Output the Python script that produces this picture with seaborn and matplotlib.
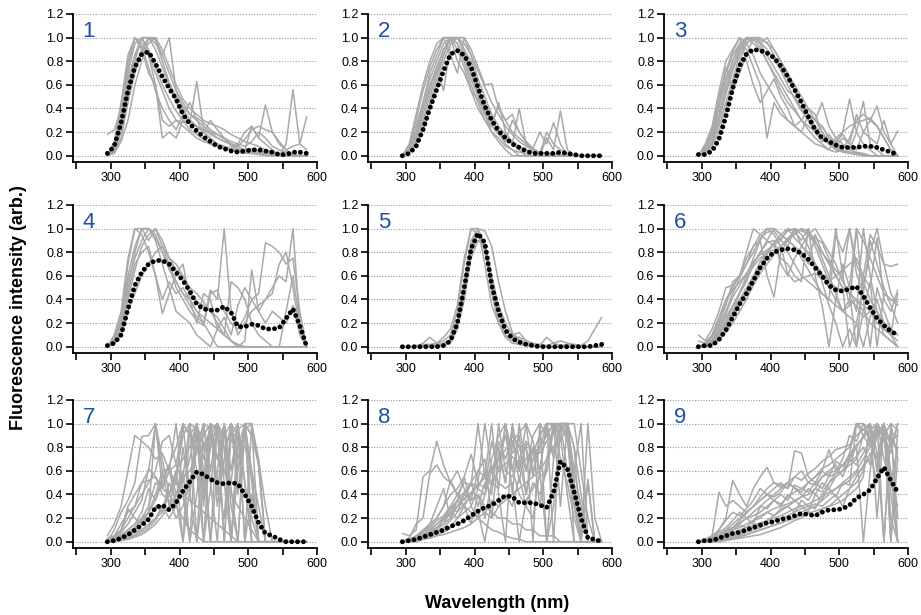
import matplotlib
matplotlib.use("Agg")
import matplotlib.pyplot as plt
import pandas as pd
import seaborn as sns

sns.set_style("ticks")
plt.rcParams["font.family"] = ["Liberation Sans", "DejaVu Sans"]
plt.rcParams["text.color"] = "black"

wavelength = [295, 305, 315, 325, 335, 345, 355, 365, 375, 385,
              395, 405, 415, 425, 435, 445, 455, 465, 475, 485,
              495, 505, 515, 525, 535, 545, 555, 565, 575, 585]

panel_labels = ["1", "2", "3", "4", "5", "6", "7", "8", "9"]

# averaged spectra (black dotted)
mean_1 = [0.02, 0.08, 0.28, 0.55, 0.75, 0.86, 0.88, 0.78, 0.67, 0.57, 0.48, 0.35, 0.27, 0.21, 0.16,
          0.12, 0.08, 0.06, 0.04, 0.03, 0.04, 0.05, 0.05, 0.04, 0.03, 0.01, 0.01, 0.03, 0.03, 0.02]
mean_2 = [0.0, 0.02, 0.08, 0.22, 0.40, 0.56, 0.72, 0.86, 0.89, 0.85, 0.75, 0.58, 0.42, 0.30, 0.21,
          0.15, 0.10, 0.07, 0.04, 0.02, 0.02, 0.02, 0.02, 0.03, 0.02, 0.01, 0.0, 0.0, 0.0, 0.0]
mean_3 = [0.01, 0.01, 0.04, 0.14, 0.33, 0.57, 0.76, 0.86, 0.90, 0.89, 0.87, 0.83, 0.76, 0.67, 0.56,
          0.45, 0.33, 0.22, 0.15, 0.12, 0.09, 0.07, 0.07, 0.07, 0.08, 0.08, 0.07, 0.05, 0.03, 0.01]
mean_4 = [0.01, 0.03, 0.10, 0.32, 0.52, 0.63, 0.70, 0.73, 0.73, 0.70, 0.63, 0.56, 0.47, 0.36, 0.32,
          0.31, 0.31, 0.34, 0.29, 0.17, 0.17, 0.19, 0.18, 0.15, 0.15, 0.16, 0.24, 0.32, 0.18, 0.0]
mean_5 = [0.0, 0.0, 0.0, 0.0, 0.0, 0.0, 0.01, 0.05, 0.20, 0.50, 0.83, 0.96, 0.88, 0.52, 0.30,
          0.14, 0.07, 0.04, 0.02, 0.01, 0.0, 0.0, 0.0, 0.0, 0.0, 0.0, 0.0, 0.0, 0.01, 0.02]
mean_6 = [0.0, 0.01, 0.01, 0.06, 0.14, 0.25, 0.36, 0.45, 0.56, 0.67, 0.75, 0.80, 0.82, 0.83, 0.82,
          0.79, 0.74, 0.67, 0.60, 0.52, 0.48, 0.47, 0.49, 0.51, 0.43, 0.33, 0.24, 0.18, 0.13, 0.10]
mean_7 = [0.0, 0.01, 0.03, 0.06, 0.10, 0.14, 0.19, 0.29, 0.31, 0.27, 0.33, 0.43, 0.51, 0.59, 0.57,
          0.53, 0.50, 0.49, 0.50, 0.49, 0.40, 0.30, 0.16, 0.07, 0.05, 0.02, 0.0, 0.0, 0.0, 0.0]
mean_8 = [0.0, 0.01, 0.02, 0.04, 0.06, 0.08, 0.10, 0.13, 0.15, 0.18, 0.22, 0.26, 0.29, 0.31, 0.35,
          0.39, 0.38, 0.33, 0.33, 0.33, 0.31, 0.29, 0.42, 0.68, 0.62, 0.42, 0.20, 0.03, 0.02, 0.0]
mean_9 = [0.0, 0.01, 0.01, 0.03, 0.05, 0.07, 0.08, 0.10, 0.12, 0.14, 0.16, 0.17, 0.19, 0.20, 0.22,
          0.24, 0.23, 0.22, 0.25, 0.27, 0.27, 0.28, 0.31, 0.37, 0.40, 0.44, 0.54, 0.63, 0.52, 0.42]

# individual spectra (grey), intensity in percent
spectra_1 = [
    [0, 5, 30, 70, 95, 100, 90, 75, 60, 48, 38, 30, 22, 18, 14, 10, 8, 6, 5, 4, 5, 6, 4, 3, 2, 0, 0, 0, 0, 0],
    [0, 10, 40, 80, 100, 95, 85, 70, 55, 40, 30, 25, 20, 15, 12, 10, 8, 6, 6, 10, 20, 25, 15, 10, 5, 0, 10, 56, 10, 5],
    [18, 22, 40, 65, 85, 100, 100, 90, 75, 60, 45, 35, 28, 63, 22, 18, 15, 12, 10, 8, 14, 22, 25, 22, 20, 12, 5, 8, 10, 33],
    [0, 2, 12, 30, 60, 80, 100, 95, 85, 100, 55, 45, 35, 30, 25, 20, 15, 12, 10, 8, 5, 4, 3, 2, 2, 1, 0, 0, 0, 0],
    [0, 8, 35, 75, 100, 90, 70, 60, 15, 20, 15, 30, 27, 25, 20, 30, 22, 15, 8, 5, 5, 25, 15, 43, 20, 10, 5, 0, 0, 0],
    [0, 6, 28, 60, 85, 100, 100, 98, 80, 62, 50, 42, 35, 32, 28, 22, 18, 14, 10, 6, 4, 3, 2, 2, 1, 0, 0, 0, 0, 0],
    [0, 4, 20, 50, 75, 90, 100, 100, 85, 70, 55, 40, 30, 25, 20, 15, 10, 8, 6, 4, 3, 2, 2, 1, 0, 0, 0, 0, 0, 0],
    [0, 12, 45, 85, 100, 92, 75, 55, 40, 30, 22, 35, 45, 30, 20, 14, 10, 8, 5, 3, 2, 2, 1, 0, 0, 0, 0, 0, 0, 0],
    [0, 3, 15, 45, 70, 88, 95, 100, 90, 75, 60, 48, 40, 35, 30, 27, 25, 22, 18, 15, 12, 10, 8, 5, 3, 2, 0, 0, 0, 0],
    [0, 5, 25, 55, 80, 100, 85, 60, 30, 25, 30, 28, 30, 25, 22, 20, 18, 15, 12, 10, 8, 12, 20, 15, 8, 5, 3, 2, 0, 0],
]
spectra_2 = [
    [0, 5, 20, 45, 65, 80, 95, 100, 95, 80, 60, 45, 30, 20, 12, 5, 0, 0, 0, 0, 0, 0, 0, 0, 0, 0, 0, 0, 0, 0],
    [0, 8, 30, 55, 75, 90, 100, 100, 90, 75, 55, 40, 30, 25, 45, 20, 10, 5, 0, 0, 0, 0, 0, 0, 0, 0, 0, 0, 0, 0],
    [0, 3, 15, 35, 55, 75, 90, 100, 100, 90, 80, 60, 40, 30, 20, 15, 10, 40, 10, 5, 0, 15, 5, 38, 5, 0, 0, 0, 0, 0],
    [0, 10, 35, 60, 80, 95, 100, 85, 70, 100, 85, 65, 50, 35, 25, 18, 12, 8, 5, 3, 2, 20, 10, 5, 2, 0, 0, 0, 0, 0],
    [0, 2, 10, 22, 40, 60, 80, 95, 100, 100, 90, 75, 60, 61, 40, 30, 20, 15, 10, 5, 3, 2, 0, 0, 0, 0, 0, 0, 0, 0],
    [0, 5, 18, 30, 50, 70, 85, 100, 95, 85, 65, 50, 35, 25, 18, 12, 30, 20, 12, 6, 3, 2, 2, 1, 0, 0, 0, 0, 0, 0],
    [0, 4, 15, 40, 60, 75, 55, 95, 100, 90, 70, 55, 45, 30, 20, 10, 5, 3, 2, 0, 0, 0, 0, 0, 0, 0, 0, 0, 0, 0],
    [0, 6, 25, 45, 70, 85, 100, 100, 80, 70, 55, 48, 35, 20, 15, 8, 5, 0, 0, 0, 0, 0, 0, 0, 0, 0, 0, 0, 0, 0],
    [0, 4, 12, 28, 45, 65, 85, 100, 100, 95, 85, 72, 58, 45, 35, 25, 18, 12, 8, 5, 3, 2, 1, 0, 0, 0, 0, 0, 0, 0],
    [0, 6, 20, 40, 58, 72, 90, 98, 100, 88, 70, 52, 38, 28, 42, 30, 35, 20, 12, 6, 20, 10, 28, 10, 0, 0, 0, 0, 0, 0],
]
spectra_3 = [
    [0, 8, 18, 40, 75, 55, 70, 85, 100, 95, 100, 90, 80, 70, 55, 45, 35, 25, 15, 10, 8, 5, 3, 2, 0, 0, 0, 0, 0, 0],
    [0, 5, 15, 35, 60, 80, 95, 100, 100, 95, 85, 75, 65, 55, 50, 40, 30, 20, 12, 18, 10, 20, 48, 20, 10, 5, 0, 0, 0, 0],
    [0, 3, 10, 25, 45, 65, 85, 95, 100, 98, 96, 85, 75, 65, 55, 45, 35, 30, 45, 25, 15, 10, 5, 20, 46, 10, 5, 0, 0, 0],
    [0, 6, 20, 45, 70, 85, 95, 90, 75, 60, 15, 45, 35, 30, 25, 20, 15, 10, 8, 5, 3, 5, 15, 30, 35, 30, 42, 20, 10, 21],
    [0, 4, 12, 30, 55, 75, 90, 100, 95, 90, 80, 70, 60, 50, 40, 30, 22, 15, 10, 5, 15, 20, 25, 28, 30, 32, 25, 15, 5, 0],
    [0, 10, 25, 55, 80, 90, 100, 95, 85, 70, 60, 50, 40, 30, 25, 20, 35, 30, 25, 15, 10, 8, 5, 3, 2, 0, 0, 0, 0, 0],
    [0, 2, 8, 20, 40, 60, 80, 95, 100, 100, 95, 90, 80, 70, 60, 50, 40, 30, 20, 10, 5, 3, 2, 1, 0, 0, 0, 0, 0, 0],
    [0, 7, 22, 50, 72, 88, 100, 80, 60, 45, 55, 65, 50, 40, 25, 30, 40, 35, 20, 12, 8, 15, 10, 5, 20, 15, 10, 30, 10, 0],
    [0, 5, 18, 42, 65, 80, 92, 100, 98, 92, 80, 68, 55, 45, 38, 30, 25, 20, 25, 15, 12, 18, 10, 35, 20, 30, 25, 15, 5, 0],
    [0, 3, 12, 30, 52, 72, 88, 98, 100, 96, 90, 82, 72, 60, 48, 38, 30, 22, 15, 10, 6, 4, 3, 2, 1, 0, 0, 0, 0, 0],
]
spectra_4 = [
    [0, 5, 20, 60, 85, 100, 100, 95, 80, 65, 55, 45, 35, 25, 20, 10, 0, 0, 0, 0, 0, 0, 0, 0, 0, 0, 0, 0, 0, 0],
    [0, 8, 25, 70, 100, 100, 90, 100, 85, 70, 55, 45, 40, 30, 20, 48, 40, 100, 30, 10, 20, 30, 35, 40, 50, 60, 55, 100, 20, 0],
    [0, 3, 15, 40, 65, 85, 95, 100, 90, 75, 65, 60, 45, 38, 35, 30, 25, 15, 5, 0, 0, 0, 0, 0, 0, 0, 0, 0, 0, 0],
    [0, 10, 30, 75, 100, 95, 80, 60, 40, 55, 45, 50, 40, 20, 45, 40, 15, 25, 10, 35, 50, 40, 45, 88, 85, 80, 70, 75, 30, 0],
    [0, 6, 22, 50, 80, 100, 100, 90, 70, 50, 30, 25, 20, 10, 5, 0, 15, 10, 55, 50, 40, 20, 10, 5, 0, 0, 30, 60, 20, 0],
    [0, 2, 10, 30, 45, 60, 70, 80, 85, 75, 70, 60, 50, 45, 38, 30, 20, 10, 5, 0, 5, 65, 30, 40, 45, 70, 80, 50, 15, 0],
    [0, 5, 18, 45, 70, 80, 85, 60, 28, 45, 62, 70, 40, 30, 25, 20, 15, 10, 5, 2, 0, 0, 0, 0, 0, 0, 0, 0, 0, 0],
    [0, 7, 25, 55, 75, 90, 100, 92, 80, 68, 50, 40, 30, 22, 18, 45, 48, 30, 20, 15, 25, 40, 30, 20, 30, 25, 20, 35, 10, 0],
]
spectra_5 = [
    [0, 0, 0, 3, 8, 3, 5, 10, 30, 70, 100, 100, 85, 45, 20, 8, 3, 2, 1, 0, 0, 0, 0, 0, 0, 0, 0, 0, 0, 0],
    [0, 0, 1, 2, 2, 3, 8, 15, 35, 75, 100, 95, 80, 55, 35, 20, 10, 5, 3, 2, 1, 0, 0, 0, 0, 0, 0, 0, 0, 0],
    [0, 0, 0, 0, 0, 1, 2, 4, 15, 45, 85, 100, 98, 85, 55, 30, 12, 6, 3, 2, 1, 0, 0, 0, 0, 0, 0, 0, 0, 0],
    [0, 0, 0, 1, 1, 2, 3, 6, 22, 55, 90, 100, 70, 35, 20, 8, 10, 12, 5, 2, 1, 8, 3, 1, 2, 1, 0, 0, 0, 0],
    [0, 0, 0, 0, 1, 1, 2, 5, 18, 50, 80, 95, 88, 60, 35, 15, 8, 8, 5, 3, 2, 1, 3, 5, 3, 2, 1, 5, 15, 25],
    [0, 0, 0, 0, 0, 0, 1, 3, 15, 40, 75, 90, 85, 50, 25, 10, 5, 3, 2, 1, 0, 0, 0, 0, 0, 0, 0, 0, 0, 0],
]
spectra_6 = [
    [10, 5, 15, 30, 50, 52, 60, 75, 85, 95, 100, 95, 85, 80, 70, 60, 55, 50, 45, 40, 35, 30, 35, 40, 30, 20, 15, 10, 5, 0],
    [0, 0, 5, 10, 20, 30, 45, 60, 75, 90, 100, 100, 95, 90, 100, 85, 80, 70, 60, 50, 40, 30, 40, 35, 25, 30, 20, 15, 10, 5],
    [0, 2, 8, 20, 35, 55, 60, 80, 100, 95, 90, 85, 75, 70, 60, 55, 100, 60, 35, 0, 40, 70, 50, 30, 100, 60, 30, 10, 5, 0],
    [0, 0, 2, 8, 15, 25, 35, 45, 55, 65, 75, 80, 85, 90, 95, 100, 98, 90, 75, 60, 45, 30, 25, 20, 0, 25, 40, 20, 10, 45],
    [0, 3, 10, 25, 40, 50, 60, 70, 85, 90, 60, 42, 80, 90, 85, 80, 70, 95, 80, 70, 60, 50, 0, 20, 50, 80, 100, 70, 45, 35],
    [0, 1, 5, 15, 25, 35, 45, 55, 70, 80, 90, 100, 95, 90, 85, 75, 65, 55, 45, 40, 95, 80, 100, 70, 55, 40, 30, 20, 15, 10],
    [0, 0, 3, 10, 20, 30, 40, 50, 60, 72, 80, 88, 92, 98, 100, 95, 85, 70, 55, 35, 20, 0, 15, 0, 60, 95, 85, 70, 68, 70],
    [0, 2, 6, 18, 30, 45, 58, 70, 80, 92, 97, 98, 90, 85, 100, 98, 96, 92, 88, 75, 60, 50, 45, 40, 35, 30, 25, 15, 10, 0],
    [0, 0, 4, 12, 22, 34, 46, 58, 68, 75, 80, 82, 85, 62, 55, 58, 60, 62, 58, 55, 60, 65, 70, 75, 60, 50, 92, 40, 30, 48],
    [0, 1, 5, 14, 28, 42, 52, 62, 72, 78, 82, 86, 90, 100, 92, 86, 78, 70, 62, 56, 50, 48, 52, 100, 90, 75, 60, 45, 40, 38],
    [0, 1, 4, 10, 18, 28, 38, 48, 58, 68, 78, 88, 95, 100, 98, 90, 100, 85, 70, 55, 100, 60, 35, 100, 40, 0, 50, 30, 15, 10],
    [5, 3, 10, 22, 38, 48, 55, 62, 70, 80, 88, 90, 70, 60, 75, 85, 95, 100, 90, 80, 70, 55, 45, 0, 30, 55, 0, 45, 40, 35],
    [0, 0, 2, 6, 12, 20, 30, 40, 52, 62, 70, 78, 85, 92, 96, 100, 94, 88, 80, 72, 65, 58, 100, 62, 45, 90, 70, 50, 35, 20],
]
spectra_7 = [
    [5, 15, 30, 60, 90, 85, 80, 70, 75, 60, 50, 40, 35, 30, 25, 20, 15, 10, 5, 0, 0, 0, 0, 0, 0, 0, 0, 0, 0, 0],
    [0, 10, 25, 35, 50, 89, 90, 100, 70, 40, 30, 20, 10, 5, 0, 0, 0, 0, 0, 0, 0, 0, 0, 0, 0, 0, 0, 0, 0, 0],
    [0, 5, 15, 25, 30, 40, 50, 60, 85, 90, 65, 100, 90, 80, 100, 95, 70, 60, 40, 30, 20, 10, 0, 0, 0, 0, 0, 0, 0, 0],
    [0, 2, 5, 10, 15, 20, 30, 50, 45, 60, 100, 40, 0, 100, 60, 0, 100, 80, 0, 95, 50, 0, 0, 0, 0, 0, 0, 0, 0, 0],
    [0, 0, 3, 8, 12, 20, 25, 100, 60, 30, 55, 90, 100, 0, 100, 50, 0, 100, 30, 0, 100, 60, 0, 0, 0, 0, 0, 0, 0, 0],
    [0, 1, 4, 6, 10, 15, 20, 30, 25, 40, 60, 70, 80, 100, 30, 100, 70, 100, 0, 60, 100, 90, 65, 0, 0, 0, 0, 0, 0, 0],
    [0, 0, 2, 5, 8, 10, 15, 20, 25, 50, 35, 0, 100, 60, 0, 90, 100, 0, 90, 100, 0, 100, 0, 0, 0, 0, 0, 0, 0, 0],
    [3, 5, 10, 20, 30, 50, 52, 55, 40, 35, 20, 30, 50, 80, 90, 100, 95, 90, 100, 90, 80, 60, 30, 0, 0, 0, 0, 0, 0, 0],
    [0, 2, 6, 10, 15, 25, 45, 35, 55, 65, 40, 60, 0, 40, 85, 0, 60, 100, 45, 0, 100, 20, 0, 0, 0, 0, 0, 0, 0, 0],
    [0, 0, 1, 3, 5, 8, 12, 18, 30, 20, 30, 55, 100, 95, 70, 100, 50, 20, 100, 70, 95, 100, 70, 30, 0, 0, 0, 0, 0, 0],
    [0, 3, 8, 15, 25, 35, 62, 55, 45, 60, 65, 50, 70, 100, 40, 80, 100, 60, 50, 100, 0, 40, 0, 0, 0, 0, 0, 0, 0, 0],
    [2, 4, 8, 28, 20, 15, 25, 40, 60, 62, 30, 80, 40, 0, 50, 100, 30, 70, 100, 40, 100, 50, 0, 0, 0, 0, 0, 0, 0, 0],
    [0, 0, 1, 2, 4, 6, 10, 15, 22, 30, 40, 55, 60, 75, 100, 60, 100, 0, 100, 60, 100, 0, 0, 0, 0, 0, 0, 0, 0, 0],
    [0, 2, 10, 30, 40, 50, 60, 100, 45, 40, 50, 100, 40, 90, 50, 100, 40, 100, 60, 100, 50, 0, 0, 0, 0, 0, 0, 0, 0, 0],
    [0, 1, 3, 6, 12, 18, 25, 35, 50, 65, 80, 100, 90, 100, 80, 95, 100, 90, 85, 95, 100, 90, 70, 0, 0, 0, 0, 0, 0, 0],
    [0, 0, 2, 4, 6, 10, 14, 20, 30, 40, 60, 0, 45, 100, 0, 45, 100, 50, 0, 80, 100, 100, 65, 0, 0, 0, 0, 0, 0, 0],
]
spectra_8 = [
    [7, 5, 10, 55, 60, 85, 65, 50, 40, 30, 25, 20, 15, 10, 8, 5, 3, 2, 0, 0, 0, 0, 0, 0, 0, 0, 0, 0, 0, 0],
    [0, 3, 15, 20, 58, 65, 55, 50, 60, 45, 35, 40, 30, 25, 20, 20, 15, 15, 10, 10, 5, 5, 5, 0, 0, 0, 0, 0, 0, 0],
    [0, 0, 5, 10, 15, 20, 30, 40, 45, 55, 74, 50, 100, 60, 80, 50, 100, 70, 40, 80, 60, 100, 98, 100, 100, 80, 40, 0, 0, 0],
    [0, 0, 2, 5, 10, 15, 20, 25, 35, 30, 40, 50, 45, 85, 60, 100, 40, 100, 60, 80, 30, 70, 100, 100, 90, 60, 30, 0, 0, 0],
    [0, 1, 3, 8, 12, 18, 22, 30, 25, 40, 35, 60, 70, 20, 75, 50, 95, 50, 85, 0, 100, 90, 100, 85, 100, 30, 0, 100, 20, 0],
    [0, 0, 1, 3, 5, 8, 10, 12, 20, 25, 30, 45, 40, 60, 70, 90, 60, 90, 40, 70, 80, 100, 100, 90, 40, 0, 0, 0, 0, 0],
    [0, 2, 4, 6, 10, 12, 15, 20, 30, 40, 50, 30, 50, 40, 100, 60, 55, 70, 85, 75, 90, 100, 0, 100, 100, 0, 0, 53, 0, 0],
    [0, 0, 0, 2, 4, 6, 8, 12, 15, 18, 20, 25, 0, 35, 30, 40, 30, 55, 30, 50, 40, 60, 95, 100, 100, 80, 0, 0, 0, 0],
    [0, 0, 1, 2, 3, 5, 6, 8, 10, 12, 15, 20, 25, 20, 30, 35, 40, 45, 50, 55, 60, 70, 80, 95, 100, 100, 60, 20, 0, 0],
    [0, 1, 3, 5, 8, 10, 15, 25, 20, 30, 15, 40, 20, 50, 85, 70, 90, 80, 60, 90, 100, 0, 70, 100, 60, 30, 0, 0, 0, 0],
    [0, 0, 2, 4, 6, 10, 20, 30, 40, 50, 48, 100, 55, 60, 50, 45, 50, 0, 35, 45, 55, 60, 100, 30, 100, 40, 0, 0, 0, 0],
    [0, 2, 5, 8, 15, 30, 45, 20, 35, 55, 30, 20, 40, 70, 90, 100, 75, 82, 78, 60, 80, 90, 100, 70, 50, 20, 0, 0, 0, 0],
    [0, 0, 1, 3, 5, 8, 12, 18, 25, 32, 40, 48, 55, 62, 70, 78, 85, 92, 100, 85, 60, 100, 70, 100, 100, 60, 100, 0, 0, 0],
    [0, 1, 3, 6, 10, 15, 20, 28, 35, 42, 50, 60, 55, 100, 40, 0, 85, 60, 100, 55, 90, 100, 75, 95, 100, 50, 0, 0, 0, 0],
    [0, 0, 2, 4, 8, 12, 18, 24, 30, 36, 42, 48, 54, 48, 60, 66, 72, 65, 70, 80, 75, 85, 92, 100, 98, 50, 0, 50, 0, 0],
    [0, 2, 4, 8, 14, 20, 30, 52, 40, 35, 50, 45, 60, 50, 45, 100, 62, 40, 30, 20, 60, 0, 30, 100, 85, 40, 0, 0, 0, 0],
]
spectra_9 = [
    [0, 2, 5, 42, 30, 35, 30, 25, 30, 35, 40, 35, 30, 40, 35, 30, 25, 40, 50, 45, 55, 60, 75, 100, 90, 80, 100, 70, 50, 80],
    [0, 1, 4, 10, 20, 52, 40, 30, 45, 55, 63, 50, 48, 45, 77, 75, 55, 50, 60, 78, 60, 70, 90, 85, 100, 95, 90, 100, 0, 70],
    [0, 0, 2, 5, 10, 15, 20, 25, 30, 35, 40, 45, 50, 45, 55, 60, 50, 55, 62, 65, 70, 75, 80, 100, 95, 100, 60, 100, 80, 100],
    [0, 0, 1, 3, 6, 10, 12, 15, 18, 22, 25, 28, 30, 32, 35, 38, 40, 45, 42, 50, 55, 60, 65, 70, 90, 100, 75, 0, 95, 20],
    [0, 1, 3, 6, 10, 12, 15, 20, 22, 25, 30, 35, 32, 38, 42, 45, 50, 48, 55, 58, 60, 65, 70, 80, 90, 95, 100, 90, 100, 95],
    [0, 0, 0, 1, 2, 4, 5, 6, 8, 10, 12, 14, 16, 18, 20, 25, 28, 30, 35, 40, 45, 50, 55, 60, 70, 80, 90, 100, 60, 0],
    [0, 0, 1, 2, 3, 5, 6, 8, 10, 12, 15, 18, 20, 22, 25, 28, 30, 32, 30, 35, 40, 30, 45, 50, 60, 100, 20, 100, 50, 30],
    [0, 0, 0, 0, 1, 2, 3, 4, 5, 6, 8, 10, 12, 15, 18, 20, 25, 22, 28, 30, 35, 40, 45, 55, 65, 70, 100, 0, 100, 0],
    [0, 2, 5, 10, 18, 25, 22, 28, 35, 45, 40, 38, 42, 50, 45, 40, 35, 45, 55, 60, 65, 55, 70, 65, 75, 85, 100, 90, 75, 100],
    [0, 0, 2, 4, 8, 10, 14, 12, 18, 20, 25, 22, 28, 30, 25, 35, 30, 28, 40, 45, 38, 50, 48, 100, 100, 85, 70, 100, 40, 0],
    [0, 1, 3, 8, 12, 18, 25, 20, 15, 30, 28, 35, 40, 35, 48, 45, 42, 50, 45, 55, 58, 60, 68, 72, 80, 65, 90, 95, 85, 90],
    [0, 0, 1, 2, 4, 6, 8, 10, 12, 15, 18, 20, 22, 25, 28, 30, 32, 35, 38, 42, 45, 48, 52, 58, 62, 75, 50, 100, 0, 95],
    [0, 1, 2, 4, 8, 12, 16, 20, 25, 30, 35, 40, 45, 50, 55, 52, 58, 62, 68, 72, 78, 80, 82, 90, 95, 88, 92, 98, 85, 90],
    [0, 0, 1, 3, 5, 8, 10, 12, 14, 16, 18, 22, 26, 30, 34, 38, 45, 40, 35, 50, 58, 65, 72, 80, 0, 60, 100, 85, 90, 75],
    [0, 1, 2, 5, 8, 12, 18, 24, 30, 38, 45, 50, 46, 50, 46, 42, 50, 55, 60, 55, 68, 64, 74, 82, 88, 94, 100, 90, 100, 70],
    [0, 0, 0, 1, 2, 3, 4, 6, 8, 10, 12, 14, 16, 18, 20, 22, 24, 26, 28, 30, 32, 35, 40, 45, 55, 100, 60, 100, 20, 0],
]

means = [mean_1, mean_2, mean_3, mean_4, mean_5, mean_6, mean_7, mean_8, mean_9]
spectra = [spectra_1, spectra_2, spectra_3, spectra_4, spectra_5,
           spectra_6, spectra_7, spectra_8, spectra_9]

W, H = 921, 615
fig = plt.figure(figsize=(W / 100, H / 100), dpi=100)

col_left = [73, 368, 664]
row_bottom = [162, 353, 548]
ax_w, ax_h = 244, 148

for k in range(9):
    r, c = divmod(k, 3)
    ax = fig.add_axes([col_left[c] / W, 1 - row_bottom[r] / H, ax_w / W, ax_h / H])

    rows = []
    for i, spec in enumerate(spectra[k]):
        for wl, v in zip(wavelength, spec):
            rows.append({"cell": i, "wavelength": wl, "intensity": v / 100})
    df = pd.DataFrame(rows)
    sns.lineplot(data=df, x="wavelength", y="intensity", units="cell", estimator=None,
                 color="#a9a9a9", linewidth=1.1, ax=ax, zorder=2)

    mdf = pd.DataFrame({"wavelength": wavelength, "intensity": means[k]})
    sns.lineplot(data=mdf, x="wavelength", y="intensity", color="black", linewidth=3.5,
                 linestyle=(0, (0.01, 1.2)), dash_capstyle="round", ax=ax, zorder=3)

    ax.set_xlim(245, 600)
    ax.set_ylim(-0.053, 1.2)
    ax.set_xticks([250, 300, 350, 400, 450, 500, 550, 600])
    ax.set_xticklabels(["", "300", "", "400", "", "500", "", "600"])
    ax.set_yticks([0, 0.2, 0.4, 0.6, 0.8, 1.0, 1.2])
    ax.set_yticklabels(["0.0", "0.2", "0.4", "0.6", "0.8", "1.0", "1.2"])
    ax.yaxis.grid(True, color="#9a9a9a", linestyle=(0, (1, 1.5)), linewidth=0.8)
    ax.set_axisbelow(True)
    ax.tick_params(axis="both", direction="out", length=5, width=1.2, labelsize=9,
                   pad=2, colors="black")
    for side in ["top", "right"]:
        ax.spines[side].set_visible(False)
    for side in ["left", "bottom"]:
        ax.spines[side].set_linewidth(1.3)
        ax.spines[side].set_color("black")
    ax.set_xlabel("")
    ax.set_ylabel("")
    ax.text(259, 1.05, panel_labels[k], color="#2150a0", fontsize=16, ha="left", va="center")

fig.text(0.02, 0.5, "Fluorescence intensity (arb.)", rotation=90, ha="center", va="center",
         fontsize=13, fontweight="bold", color="black")
fig.text(0.540, 0.019, "Wavelength (nm)", ha="center", va="center",
         fontsize=13, fontweight="bold", color="black")

fig.savefig("out.png", dpi=100)
